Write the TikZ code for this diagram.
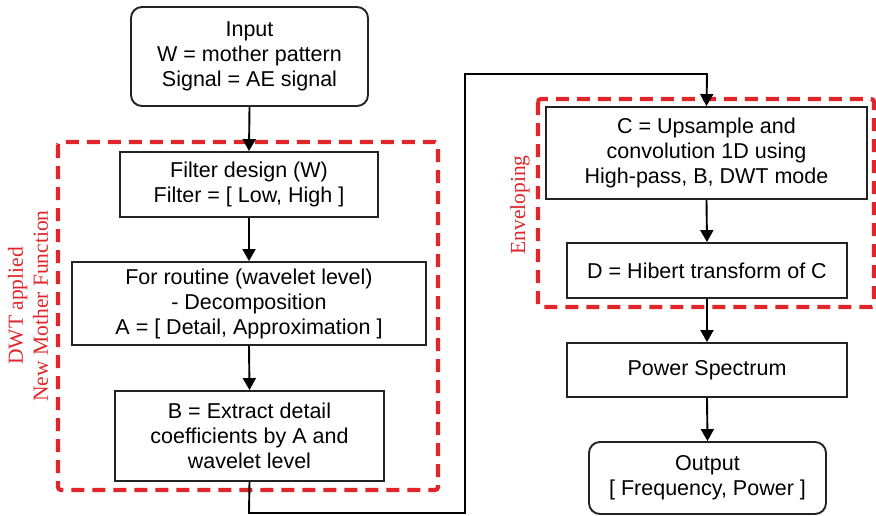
\documentclass[tikz,border=0pt]{standalone}
\usepackage{fontspec}
\setmainfont{Liberation Sans}
\newfontfamily\redserif{Liberation Serif}
\usetikzlibrary{arrows.meta}
\definecolor{dashred}{RGB}{224,38,42}
\definecolor{linegray}{RGB}{35,35,35}
\tikzset{
  box/.style={draw=linegray,line width=1.9pt,rectangle,align=center,inner sep=0pt,font=\fontsize{21.5}{25}\selectfont},
  rbox/.style={box,rounded corners=11pt},
  flow/.style={draw=black,line width=1.9pt,-{Triangle[length=12pt,width=13pt]}},
  groupbox/.style={draw=dashred,line width=4.2pt,dash pattern=on 13pt off 8pt,rounded corners=3pt},
  grouplabel/.style={text=dashred,font=\redserif\fontsize{21.5}{25}\selectfont,rotate=90,align=center,inner sep=0pt}
}
\begin{document}
\begin{tikzpicture}[x=1pt,y=-1pt]
\useasboundingbox (0,0) rectangle (876,515);
% groups
\draw[groupbox] (58,142) rectangle (438,490);
\draw[groupbox] (538,99) rectangle (874,307);
\node[grouplabel] (lblL) at (28,306) {DWT applied\\New Mother Function};
\node[grouplabel] (lblR) at (520,205) {Enveloping};
% nodes
\node[rbox,minimum width=237pt,minimum height=99pt] (inp) at (249.5,56.5) {Input\\W = mother pattern\\Signal = AE signal};
\node[box,fill=white,minimum width=258pt,minimum height=65pt] (filt) at (249,184.5) {Filter design (W)\\Filter = [ Low, High ]};
\node[box,minimum width=354pt,minimum height=83pt] (rout) at (249,303.5) {For routine (wavelet level)\\- Decomposition\\A = [ Detail, Approximation ]};
\node[box,minimum width=269pt,minimum height=90pt] (bx) at (249.5,436) {B = Extract detail\\coefficients by A and\\wavelet level};
\node[box,fill=white,minimum width=321pt,minimum height=92pt] (cx) at (706.5,153) {C = Upsample and\\convolution 1D using\\High-pass, B, DWT mode};
\node[box,minimum width=280pt,minimum height=55pt] (dx) at (707,270.5) {D = Hibert transform of C};
\node[box,minimum width=280pt,minimum height=54pt] (pw) at (707,370) {Power Spectrum};
\node[rbox,minimum width=237pt,minimum height=72pt] (out) at (707.5,478) {Output\\{[} Frequency, Power ]};
% connectors
\coordinate (c1) at (249,513);
\coordinate (c2) at (465,513);
\coordinate (c3) at (465,74);
\coordinate (c4) at (707,74);
\draw[flow] (inp.south) -- (filt.north);
\draw[flow] (filt.south) -- (rout.north);
\draw[flow] (rout.south) -- (bx.north);
\draw[flow] (bx.south) -- (c1) -- (c2) -- (c3) -- (c4) -- (cx.north);
\draw[flow] (cx.south) -- (dx.north);
\draw[flow] (dx.south) -- (pw.north);
\draw[flow] (pw.south) -- (out.north);
\end{tikzpicture}
\end{document}
